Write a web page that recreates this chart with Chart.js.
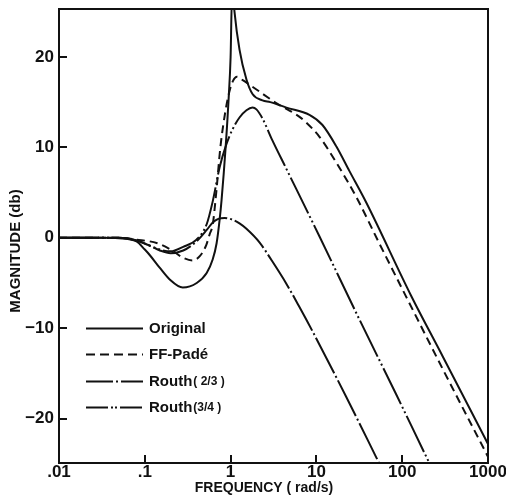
<!DOCTYPE html>
<html><head><meta charset="utf-8">
<script src="https://cdn.jsdelivr.net/npm/chart.js@4"></script>
<style>html,body{margin:0;padding:0;background:#fff}canvas{display:block}</style>
</head><body>
<canvas id="c" width="506" height="498"></canvas>
<script>
// ---- tick definitions ----
const xTicks = [0.01, 0.1, 1, 10, 100, 1000];
const xTickLabels = ['.01', '.1', '1', '10', '100', '1000'];
const yTicks = [-20, -10, 0, 10, 20];
const yTickLabels = ['\u221220', '\u221210', '0', '10', '20'];

// ---- series: Original ----
const freqOriginal = [0.01, 0.03, 0.05, 0.08, 0.1, 0.114, 0.149, 0.195, 0.277, 0.403, 0.526, 0.618, 0.687, 0.745, 0.785, 0.875, 0.95, 1.0, 1.04, 1.07, 1.11, 1.27, 1.53, 1.8, 2.35, 2.9, 4.48, 8.3, 11.7, 17.1, 24.2, 38.1, 127, 300, 1000];
const magOriginal  = [0, 0, -0.05, -0.4, -1.3, -1.9, -3.3, -4.6, -5.5, -5.0, -3.9, -2.4, -0.6, 2.0, 4.2, 10.0, 15.5, 20.0, 27, 27, 25, 20.8, 17.5, 15.9, 15.2, 15.0, 14.4, 13.6, 12.5, 10.1, 7.4, 3.9, -6.4, -13.2, -22.8];

// ---- series: FF-Padé ----
const freqFF = [0.01, 0.05, 0.081, 0.14, 0.2, 0.28, 0.36, 0.44, 0.52, 0.57, 0.62, 0.68, 0.76, 0.87, 0.97, 1.06, 1.19, 1.4, 2.0, 3.4, 6.3, 7.7, 10.8, 17.1, 29.2, 54, 111, 300, 1000];
const magFF  = [0, 0, -0.2, -0.6, -1.3, -2.2, -2.5, -2.0, -0.8, 0.4, 1.5, 5.0, 10.0, 14.0, 16.2, 17.3, 17.8, 17.4, 16.4, 14.9, 13.4, 12.7, 11.2, 8.3, 4.5, -0.6, -6.5, -14.6, -24.2];

// ---- series: Routh (2/3) ----
const freqR23 = [0.01, 0.05, 0.08, 0.11, 0.15, 0.2, 0.28, 0.4, 0.53, 0.62, 0.72, 0.85, 1.054, 1.27, 1.53, 2.17, 3.06, 4.48, 6.3, 8.97, 22.3, 50, 70];
const magR23  = [0, 0, -0.3, -0.8, -1.4, -1.7, -1.4, -0.4, 0.9, 1.7, 2.1, 2.2, 2.0, 1.6, 1.0, -0.5, -2.6, -5.1, -7.6, -10.3, -17.6, -24.3, -27.1];

// ---- series: Routh (3/4) ----
const freqR34 = [0.01, 0.05, 0.08, 0.11, 0.15, 0.2, 0.28, 0.4, 0.526, 0.618, 0.745, 0.89, 1.054, 1.27, 1.53, 1.8, 2.0, 2.35, 3.06, 4.48, 10.8, 31.6, 85, 193, 300];
const magR34  = [0, 0, -0.3, -0.8, -1.3, -1.5, -1.0, -0.2, 1.5, 4.0, 7.8, 10.3, 12.0, 13.3, 14.1, 14.4, 14.2, 13.2, 10.8, 7.6, 0.2, -9.0, -17.3, -24.3, -28.0];

const seriesNames = ['Original', 'FF-Pad\u00e9', 'Routh', 'Routh'];
const seriesSubs  = ['', '', '( 2/3 )', '(3/4 )'];

const ink = '#111';
const FONT = '"Liberation Sans", Arial, sans-serif';
const toPts = (f, m) => f.map((v, i) => ({x: v, y: m[i]}));

const dashes = [[], [8, 5], [40, 3, 2, 3], [40, 3, 2, 3, 2, 3]];
const legendDashes = [[], [9, 5], [27, 3, 2, 3], [22, 3, 2, 2, 2, 3]];

const mk = (label, f, m, dash) => ({
  label, data: toPts(f, m), borderColor: ink, borderWidth: 2, borderDash: dash,
  pointRadius: 0, fill: false, cubicInterpolationMode: 'monotone', clip: 0
});

const framePlugin = {
  id: 'frame',
  afterDraw(chart) {
    const {ctx, chartArea: a, scales: {x, y}} = chart;
    ctx.save();
    ctx.strokeStyle = ink; ctx.fillStyle = ink; ctx.lineWidth = 2; ctx.setLineDash([]);
    ctx.strokeRect(a.left, a.top, a.right - a.left, a.bottom - a.top);
    ctx.beginPath();
    yTicks.forEach(v => { const py = Math.round(y.getPixelForValue(v)); ctx.moveTo(a.left - 1, py); ctx.lineTo(a.left + 8, py); });
    xTicks.forEach(v => { const px = Math.round(x.getPixelForValue(v)); ctx.moveTo(px, a.bottom); ctx.lineTo(px, a.bottom - 8); });
    ctx.stroke();
    // axis titles
    ctx.font = 'bold 14px ' + FONT;
    ctx.textAlign = 'center'; ctx.textBaseline = 'middle';
    ctx.fillText('FREQUENCY ( rad/s)', 264, 488);
    ctx.save();
    ctx.translate(16, 251); ctx.rotate(-Math.PI / 2);
    ctx.font = 'bold 15px ' + FONT;
    ctx.fillText('MAGNITUDE (db)', 0, 0);
    ctx.restore();
    // legend
    const rowY0 = a.top + 319, rowStep = 26.3;
    seriesNames.forEach((name, i) => {
      const ry = Math.round(rowY0 + i * rowStep) + 0.5;
      ctx.setLineDash(legendDashes[i]); ctx.lineWidth = 2;
      ctx.beginPath(); ctx.moveTo(86, ry); ctx.lineTo(143, ry); ctx.stroke();
      ctx.setLineDash([]);
      ctx.textAlign = 'left'; ctx.textBaseline = 'middle';
      ctx.font = 'bold 15px ' + FONT;
      ctx.fillText(name, 149, ry);
      if (seriesSubs[i]) {
        const w = ctx.measureText(name).width;
        ctx.font = 'bold 12px ' + FONT;
        ctx.fillText(seriesSubs[i], 149 + w + 1, ry);
      }
    });
    ctx.restore();
  }
};

new Chart(document.getElementById('c'), {
  type: 'line',
  data: {
    datasets: [
      mk('Original', freqOriginal, magOriginal, dashes[0]),
      mk('FF-Padé', freqFF, magFF, dashes[1]),
      mk('Routh (2/3)', freqR23, magR23, dashes[2]),
      mk('Routh (3/4)', freqR34, magR34, dashes[3])
    ]
  },
  options: {
    responsive: false, animation: false, devicePixelRatio: 1,
    layout: {padding: {top: 9, right: 18, left: 0, bottom: 0}},
    plugins: {legend: {display: false}, tooltip: {enabled: false}},
    scales: {
      x: {
        type: 'logarithmic', min: 0.01, max: 1000,
        afterBuildTicks: s => { s.ticks = xTicks.map(v => ({value: v})); },
        afterFit: s => { s.height = 35; s.paddingLeft = 0; s.paddingRight = 0; },
        grid: {display: false, drawTicks: false}, border: {display: false},
        ticks: {padding: 1, color: ink, autoSkip: false, maxRotation: 0,
          font: {family: FONT, size: 17, weight: 'bold', lineHeight: 1},
          callback: (v, i) => xTickLabels[i]}
      },
      y: {
        min: -24.9, max: 25.3,
        afterBuildTicks: s => { s.ticks = yTicks.map(v => ({value: v})); },
        afterFit: s => { s.width = 59; s.paddingTop = 0; s.paddingBottom = 0; },
        grid: {display: false, drawTicks: false}, border: {display: false},
        ticks: {padding: 5, color: ink,
          font: {family: FONT, size: 17, weight: 'bold', lineHeight: 1},
          callback: (v, i) => yTickLabels[i]}
      }
    }
  },
  plugins: [framePlugin]
});
</script>
</body></html>
